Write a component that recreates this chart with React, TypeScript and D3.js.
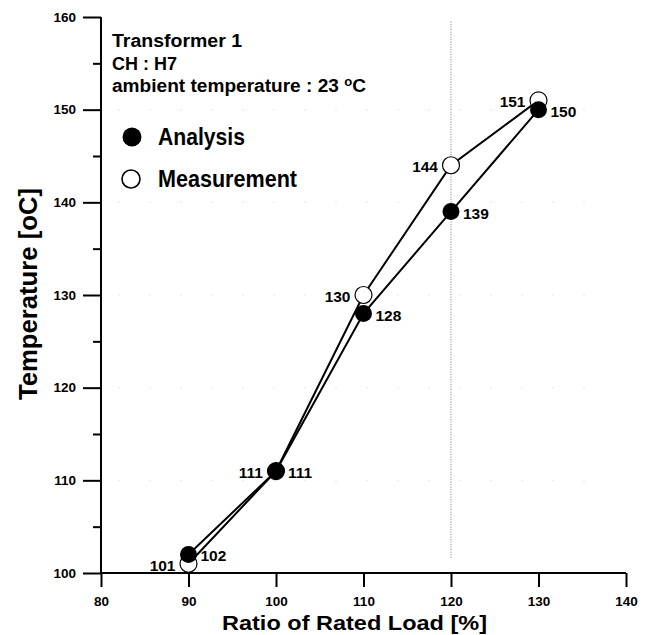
import React, { useEffect, useRef } from "react";
import * as d3 from "d3";

const loads = [90, 100, 110, 120, 130];
const analysis = [102, 111, 128, 139, 150];
const measurement = [101, 111, 130, 144, 151];
const xTicks = [80, 90, 100, 110, 120, 130, 140];
const yTicks = [100, 110, 120, 130, 140, 150, 160];
const yMinor = [105, 115, 125, 135, 145, 155];
const infoLines = ["Transformer 1", "CH : H7", "ambient temperature : 23 "];
const infoWidths = [130, 65, 254];

const W = 649;
const H = 635;
const FONT = "'Liberation Sans', Arial, Helvetica, sans-serif";

export default function App() {
  const ref = useRef<SVGSVGElement>(null);

  useEffect(() => {
    const svg = d3.select(ref.current);
    svg.selectAll("*").remove();

    const x = d3.scaleLinear().domain([80, 140]).range([101, 626]);
    const y = d3.scaleLinear().domain([100, 160]).range([573, 17]);

    const g = svg.append("g").style("font-family", FONT).style("font-weight", "bold");

    // faint dotted gridlines
    g.append("line")
      .attr("x1", x(120)).attr("x2", x(120))
      .attr("y1", y(159.5)).attr("y2", y(101.5))
      .attr("stroke", "#777").attr("stroke-width", 1)
      .attr("stroke-dasharray", "1,1.5");
    yTicks.slice(1, -1).forEach((t) => {
      g.append("line")
        .attr("x1", x(82)).attr("x2", x(138))
        .attr("y1", y(t)).attr("y2", y(t))
        .attr("stroke", "#ccc").attr("stroke-width", 1)
        .attr("stroke-dasharray", "1,30");
    });

    // axes
    const xAxis = g.append("g").attr("transform", `translate(0,${y(100)})`)
      .call(d3.axisBottom(x).tickValues(xTicks).tickSize(14).tickPadding(9).tickFormat(d3.format("d")));
    const yAxis = g.append("g").attr("transform", `translate(${x(80)},0)`)
      .call(d3.axisLeft(y).tickValues(yTicks).tickSize(18).tickPadding(7).tickFormat(d3.format("d")));
    g.append("g").attr("transform", `translate(${x(80)},0)`)
      .call(d3.axisLeft(y).tickValues(yMinor).tickSize(8).tickFormat(() => ""))
      .call((a) => a.select(".domain").remove());

    [xAxis, yAxis].forEach((a) => {
      a.select(".domain").attr("stroke-width", 2);
      a.selectAll("text").style("font-family", FONT).style("font-weight", "bold").style("font-size", "13.5px").attr("fill", "#000");
    });
    g.selectAll(".tick line").attr("stroke-width", 2);
    xAxis.select(".domain").attr("d", `M${x(80)},0H${x(140)}`);
    yAxis.select(".domain").attr("d", `M0,${y(100)}V${y(160)}`);

    // axis titles
    g.append("text")
      .attr("x", 222).attr("y", 630)
      .attr("textLength", 265).attr("lengthAdjust", "spacingAndGlyphs")
      .style("font-size", "20px")
      .text("Ratio of Rated Load [%]");
    g.append("text")
      .attr("transform", `translate(37,400) rotate(-90)`)
      .attr("textLength", 212).attr("lengthAdjust", "spacingAndGlyphs")
      .style("font-size", "26px")
      .text("Temperature [oC]");

    // series lines
    const line = d3.line<number>().x((d, i) => x(loads[i])).y((d) => y(d));
    g.append("path").datum(measurement).attr("d", line)
      .attr("fill", "none").attr("stroke", "#000").attr("stroke-width", 2);
    g.append("path").datum(analysis).attr("d", line)
      .attr("fill", "none").attr("stroke", "#000").attr("stroke-width", 2);

    // markers
    g.selectAll("circle.meas").data(measurement).enter().append("circle")
      .attr("class", "meas")
      .attr("cx", (d, i) => x(loads[i])).attr("cy", (d) => y(d)).attr("r", 8.5)
      .attr("fill", "#fff").attr("stroke", "#000").attr("stroke-width", 1.2);
    g.selectAll("circle.ana").data(analysis).enter().append("circle")
      .attr("class", "ana")
      .attr("cx", (d, i) => x(loads[i])).attr("cy", (d) => y(d)).attr("r", 8.5)
      .attr("fill", "#000");

    // value labels
    g.selectAll("text.mlab").data(measurement).enter().append("text")
      .attr("class", "mlab")
      .attr("x", (d, i) => x(loads[i]) - 13).attr("y", (d) => y(d) + 7)
      .attr("text-anchor", "end").style("font-size", "15.5px")
      .text((d) => d);
    g.selectAll("text.alab").data(analysis).enter().append("text")
      .attr("class", "alab")
      .attr("x", (d, i) => x(loads[i]) + 12).attr("y", (d) => y(d) + 7)
      .attr("text-anchor", "start").style("font-size", "15.5px")
      .text((d) => d);

    // info text
    infoLines.forEach((t, i) => {
      const tx = g.append("text").attr("x", 112).attr("y", 47 + i * 22.5)
        .attr("textLength", infoWidths[i]).attr("lengthAdjust", "spacingAndGlyphs")
        .style("font-size", "17.5px").text(t);
      if (i === 2) {
        tx.append("tspan").attr("dy", -6).style("font-size", "12px").text("o");
        tx.append("tspan").attr("dy", 6).text("C");
      }
    });

    // legend
    g.append("circle").attr("cx", 132).attr("cy", 137).attr("r", 9.5).attr("fill", "#000");
    g.append("text").attr("x", 158).attr("y", 145)
      .attr("textLength", 87).attr("lengthAdjust", "spacingAndGlyphs")
      .style("font-size", "23px").text("Analysis");
    g.append("circle").attr("cx", 131).attr("cy", 179).attr("r", 9)
      .attr("fill", "#fff").attr("stroke", "#000").attr("stroke-width", 1.6);
    g.append("text").attr("x", 158).attr("y", 187)
      .attr("textLength", 139).attr("lengthAdjust", "spacingAndGlyphs")
      .style("font-size", "23px").text("Measurement");
  }, []);

  return (
    <div style={{ position: "absolute", left: 0, top: 0 }}>
      <svg ref={ref} width={W} height={H} style={{ display: "block", background: "#fff" }} />
    </div>
  );
}
